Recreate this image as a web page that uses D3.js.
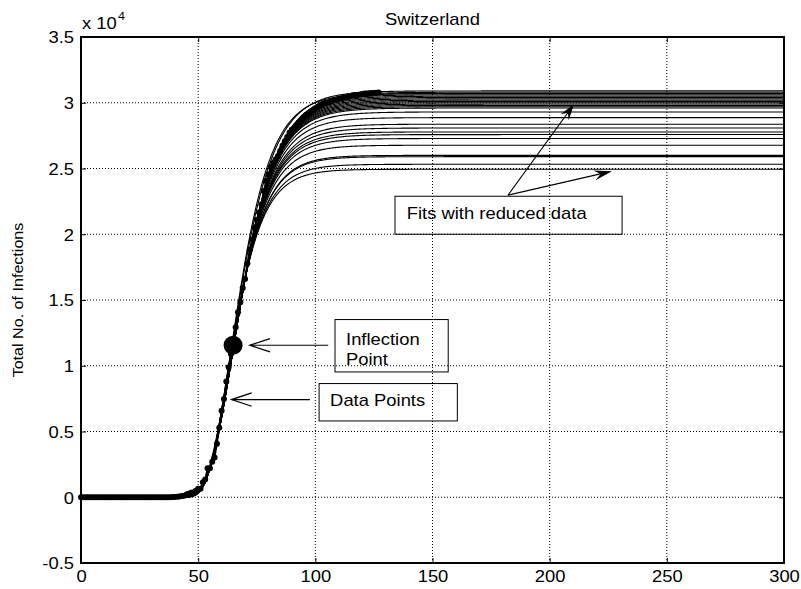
<!DOCTYPE html>
<html><head><meta charset="utf-8">
<script src="https://cdn.jsdelivr.net/npm/d3@7"></script>
<style>
html,body{margin:0;padding:0;background:#fff;}
svg{display:block;}
text{font-family:"Liberation Sans",Arial,Helvetica,sans-serif;fill:#000;}
</style>
</head><body>
<svg id="chart" width="801" height="589"></svg>
<script>
// ---------- DATA ----------
const chartTitle = "Switzerland";
const yAxisTitle = "Total No. of Infections";
// cumulative infections, index = day number
const infections = [
  0,0,0,0,0,0,0,0,0,0,0,0,0,0,0,0,0,0,0,0,0,0,0,0,0,0,0,0,0,0,0,0,0,0,0,
  1,1,8,8,18,27,42,56,90,114,214,268,337,374,491,
  652,652,1139,1359,2200,2200,2700,3028,4075,5294,
  6575,7474,8795,9877,10897,11811,12928,14076,14829,15922,
  16605,17768,18827,19606,20505,21100,21657,22253,23280,24051,
  24551,25107,25415,25688,25936,26336,26732,27078,27404,27740,
  27944,28063,28268,28496,28677,28894,29061,29164,29264,29407,
  29586,29705,29817,29905,29981,30009,30060,30126,30207,30251,
  30305,30344,30380,30413,30463,30514,30572,30587,30597,30618,
  30658,30694,30707,30725,30736,30746,30761,30776
];
// Gompertz fits with reduced data: asymptote, growth rate, inflection day
const fitAsymptote = [24940,25320,25900,26000,26770,27280,27580,27780,28080,28370,28870,29300,
  29600,29700,29800,29900,30000,30100,30200,30300,30400,30500,30600,30700,30800,30700,30900];
const fitRate = [0.11909,0.11709,0.11421,0.11374,0.11031,0.10823,0.10708,0.10633,0.10523,0.10421,0.10252,0.10114,
  0.10022,0.09994,0.09965,0.09937,0.09908,0.09880,0.09851,0.09823,0.09794,0.09766,0.09737,0.09709,0.09680,0.10492,0.10000];
const fitInflectionDay = [62.45,62.63,62.90,62.95,63.30,63.53,63.66,63.75,63.88,64.01,64.22,64.41,
  64.53,64.57,64.61,64.65,64.69,64.74,64.78,64.82,64.86,64.90,64.94,64.98,65.02,64.12,64.30];
const inflectionPoint = {day: 64.9, value: 11560};
const xTickValues = [0,50,100,150,200,250,300];
const yTickValues = [-5000,0,5000,10000,15000,20000,25000,30000,35000];
const yTickLabels = ["-0.5","0","0.5","1","1.5","2","2.5","3","3.5"];

// ---------- LAYOUT ----------
const SX = 1.15;
const svg = d3.select("#chart");
const x = d3.scaleLinear().domain([0,300]).range([81,784]);
const y = d3.scaleLinear().domain([-5000,35000]).range([563,37]);

function label(g, px, py, str, size, anchor, rot) {
  return g.append("text")
    .attr("transform", `translate(${px},${py})${rot ? " rotate(" + rot + ")" : ""} scale(${SX},1)`)
    .attr("font-size", size).attr("text-anchor", anchor || "start").text(str);
}

// grid
const grid = svg.append("g").attr("stroke", "#000").attr("stroke-width", 1).attr("stroke-dasharray", "1,2").attr("fill", "none");
xTickValues.slice(1, -1).forEach(v => grid.append("line").attr("x1", x(v)).attr("x2", x(v)).attr("y1", y(35000)).attr("y2", y(-5000)));
yTickValues.slice(1, -1).forEach(v => grid.append("line").attr("y1", y(v)).attr("y2", y(v)).attr("x1", x(0)).attr("x2", x(300)));

// fits
const fitDays = d3.range(0, 300.01, 0.5);
const fitLine = d3.line().x(d => x(d[0])).y(d => y(d[1]));
const fits = svg.append("g").attr("fill", "none").attr("stroke", "#000").attr("stroke-width", 1.1);
fitAsymptote.forEach((K, i) => {
  const pts = fitDays.map(t => [t, K * Math.exp(-Math.exp(-fitRate[i] * (t - fitInflectionDay[i])))]);
  fits.append("path").attr("d", fitLine(pts));
});

// data line + points
const dataLine = d3.line().x((d, i) => x(i)).y(d => y(d));
svg.append("path").attr("d", dataLine(infections)).attr("fill", "none").attr("stroke", "#000").attr("stroke-width", 1.8);
svg.append("g").selectAll("circle").data(infections).join("circle")
  .attr("cx", (d, i) => x(i)).attr("cy", d => y(d)).attr("r", 3).attr("fill", "#000");

// inflection marker
svg.append("circle").attr("cx", x(inflectionPoint.day)).attr("cy", y(inflectionPoint.value)).attr("r", 9.5).attr("fill", "#000");

// axes: ticks inward on all sides
const tk = 5;
svg.append("g").attr("transform", `translate(0,${y(-5000)})`).call(d3.axisBottom(x).tickValues(xTickValues).tickSize(-tk).tickFormat("")).call(g => g.select(".domain").remove());
svg.append("g").attr("transform", `translate(0,${y(35000)})`).call(d3.axisTop(x).tickValues(xTickValues).tickSize(-tk).tickFormat("")).call(g => g.select(".domain").remove());
svg.append("g").attr("transform", `translate(${x(0)},0)`).call(d3.axisLeft(y).tickValues(yTickValues).tickSize(-tk).tickFormat("")).call(g => g.select(".domain").remove());
svg.append("g").attr("transform", `translate(${x(300)},0)`).call(d3.axisRight(y).tickValues(yTickValues).tickSize(-tk).tickFormat("")).call(g => g.select(".domain").remove());

// labels via axes
const xAx = svg.append("g").attr("transform", `translate(0,${y(-5000)})`)
  .call(d3.axisBottom(x).tickValues(xTickValues).tickSize(0).tickFormat(d3.format("d")));
xAx.select(".domain").remove();
xAx.attr("font-size", 16).attr("font-family", null);
xAx.selectAll("text").attr("y", null).attr("dy", null).attr("transform", `translate(0,19) scale(${SX},1)`);

const yAx = svg.append("g").attr("transform", `translate(${x(0)},0)`)
  .call(d3.axisLeft(y).tickValues(yTickValues).tickSize(0).tickFormat((d, i) => yTickLabels[i]));
yAx.select(".domain").remove();
yAx.attr("font-size", 16).attr("font-family", null);
yAx.selectAll("text").attr("x", null).attr("dy", "0.36em").attr("transform", `translate(-7,0) scale(${SX},1)`);

// box
svg.append("rect").attr("x", x(0)).attr("y", y(35000)).attr("width", x(300) - x(0)).attr("height", y(-5000) - y(35000))
  .attr("fill", "none").attr("stroke", "#000").attr("stroke-width", 2);

// titles
label(svg, (x(0) + x(300)) / 2, 25, chartTitle, 16, "middle");
label(svg, 82, 29, "x 10", 16, "start");
label(svg, 118, 20, "4", 11, "start");
label(svg, 23, (y(35000) + y(-5000)) / 2, yAxisTitle, 14, "middle", -90);

// annotations
const ann = svg.append("g");
function box(t0, v0, t1, v1) {
  ann.append("rect").attr("x", x(t0)).attr("y", y(v0)).attr("width", x(t1) - x(t0)).attr("height", y(v1) - y(v0))
    .attr("fill", "none").attr("stroke", "#000").attr("stroke-width", 1);
}
function openArrow(t0, v0, t1, v1) {
  const x0 = x(t0), y0 = y(v0), x1 = x(t1), y1 = y(v1);
  ann.append("line").attr("x1", x0).attr("y1", y0).attr("x2", x1).attr("y2", y1).attr("stroke", "#000").attr("stroke-width", 1.2);
  const a = Math.atan2(y1 - y0, x1 - x0), L = 20, W = 6.7;
  const bx = x1 - L * Math.cos(a), by = y1 - L * Math.sin(a);
  const p1 = [bx + W * Math.sin(a), by - W * Math.cos(a)], p2 = [bx - W * Math.sin(a), by + W * Math.cos(a)];
  ann.append("path").attr("d", `M${p1}L${x1},${y1}L${p2}`).attr("fill", "none").attr("stroke", "#000").attr("stroke-width", 1.3);
}
function filledArrow(t0, v0, t1, v1, L, W) {
  const x0 = x(t0), y0 = y(v0), x1 = x(t1), y1 = y(v1);
  const a = Math.atan2(y1 - y0, x1 - x0);
  const c = Math.cos(a), s = Math.sin(a);
  ann.append("line").attr("x1", x0).attr("y1", y0).attr("x2", x1 - (L * 0.6) * c).attr("y2", y1 - (L * 0.6) * s).attr("stroke", "#000").attr("stroke-width", 1.2);
  const bx = x1 - L * c, by = y1 - L * s;
  const nx = x1 - L * 0.65 * c, ny = y1 - L * 0.65 * s;
  ann.append("path").attr("d", `M${x1},${y1}L${bx + W * s},${by - W * c}L${nx},${ny}L${bx - W * s},${by + W * c}Z`).attr("fill", "#000");
}

// Fits with reduced data
box(134.0, 22890, 230.9, 20000);
label(ann, x(139.0), y(21141), "Fits with reduced data", 16, "start");
filledArrow(182.2, 22966, 210.4, 29886, 16, 5);
filledArrow(182.2, 22966, 226.6, 24791, 18, 5);

// Inflection Point
box(108.4, 13513, 156.7, 9528);
label(ann, x(113.1), y(11559), "Inflection", 16, "start");
label(ann, x(113.1), y(10038), "Point", 16, "start");
openArrow(105.5, 11559, 72.1, 11559);

// Data Points
box(101.6, 8646, 160.6, 5802);
label(ann, x(106.3), y(6920), "Data Points", 16, "start");
openArrow(97.7, 7430, 64.3, 7430);
</script>
</body></html>
